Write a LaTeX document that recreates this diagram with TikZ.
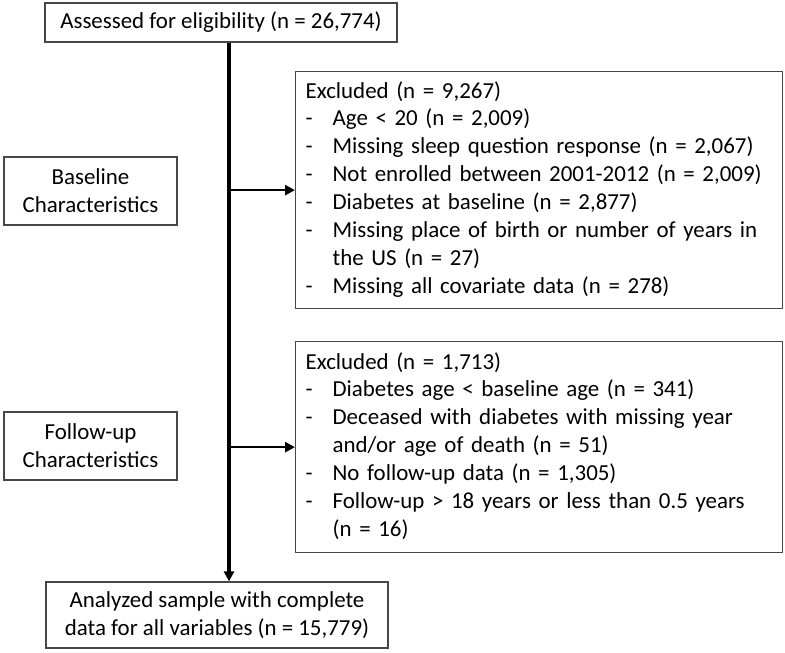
\documentclass[tikz,border=0pt]{standalone}
\usepackage{fontspec}
\setmainfont{Carlito}
\usetikzlibrary{arrows.meta}
\tikzset{
  box/.style={draw=black!72, line width=1.3bp, inner sep=0pt, align=center, font=\fontsize{23}{28}\selectfont},
  spine/.style={line width=3.4bp, -{Triangle[length=10bp,width=10bp]}},
  branch/.style={line width=2.6bp, -{Triangle[length=10bp,width=10bp]}}
}
\newcommand{\exlist}[1]{\begin{tabular}{@{}p{27bp}@{}l@{}}#1\end{tabular}}
\begin{document}
\begin{tikzpicture}[x=1bp,y=-1bp]
\useasboundingbox (0,0) rectangle (785,653);
\node[box, minimum width=352bp, minimum height=39bp] (top) at (221,22.5) {Assessed for eligibility (n = 26,774)};
\node[box, minimum width=173bp, minimum height=68bp] (base) at (90.5,191) {Baseline\\Characteristics};
\node[box, minimum width=173bp, minimum height=68bp] (fup) at (90.5,446) {Follow-up\\Characteristics};
\node[box, minimum width=487bp, minimum height=237bp, anchor=north west, align=left, text width=487bp] (ex1) at (295,71) {\hspace*{10bp}\exlist{%
\multicolumn{2}{@{}l@{}}{Excluded (n = 9,267)}\\
-&Age < 20 (n = 2,009)\\
-&Missing sleep question response (n = 2,067)\\
-&Not enrolled between 2001-2012 (n = 2,009)\\
-&Diabetes at baseline (n = 2,877)\\
-&Missing place of birth or number of years in\\
&the US (n = 27)\\
-&Missing all covariate data (n = 278)}};
\node[box, minimum width=487bp, minimum height=211bp, anchor=north west, align=left, text width=487bp] (ex2) at (295,341) {\hspace*{10bp}\exlist{%
\multicolumn{2}{@{}l@{}}{Excluded (n = 1,713)}\\
-&Diabetes age < baseline age (n = 341)\\
-&Deceased with diabetes with missing year\\
&and/or age of death (n = 51)\\
-&No follow-up data (n = 1,305)\\
-&Follow-up > 18 years or less than 0.5 years\\
&(n = 16)}};
\node[box, minimum width=342bp, minimum height=66bp] (bot) at (217,615) {Analyzed sample with complete\\data for all variables (n = 15,779)};
\coordinate (sp) at (229,0);
\draw[spine] (top.south -| sp) -- (bot.north -| sp);
\draw[branch] (sp |- ex1.west) -- (ex1.west);
\draw[branch] (sp |- ex2.west) -- (ex2.west);
\end{tikzpicture}
\end{document}
